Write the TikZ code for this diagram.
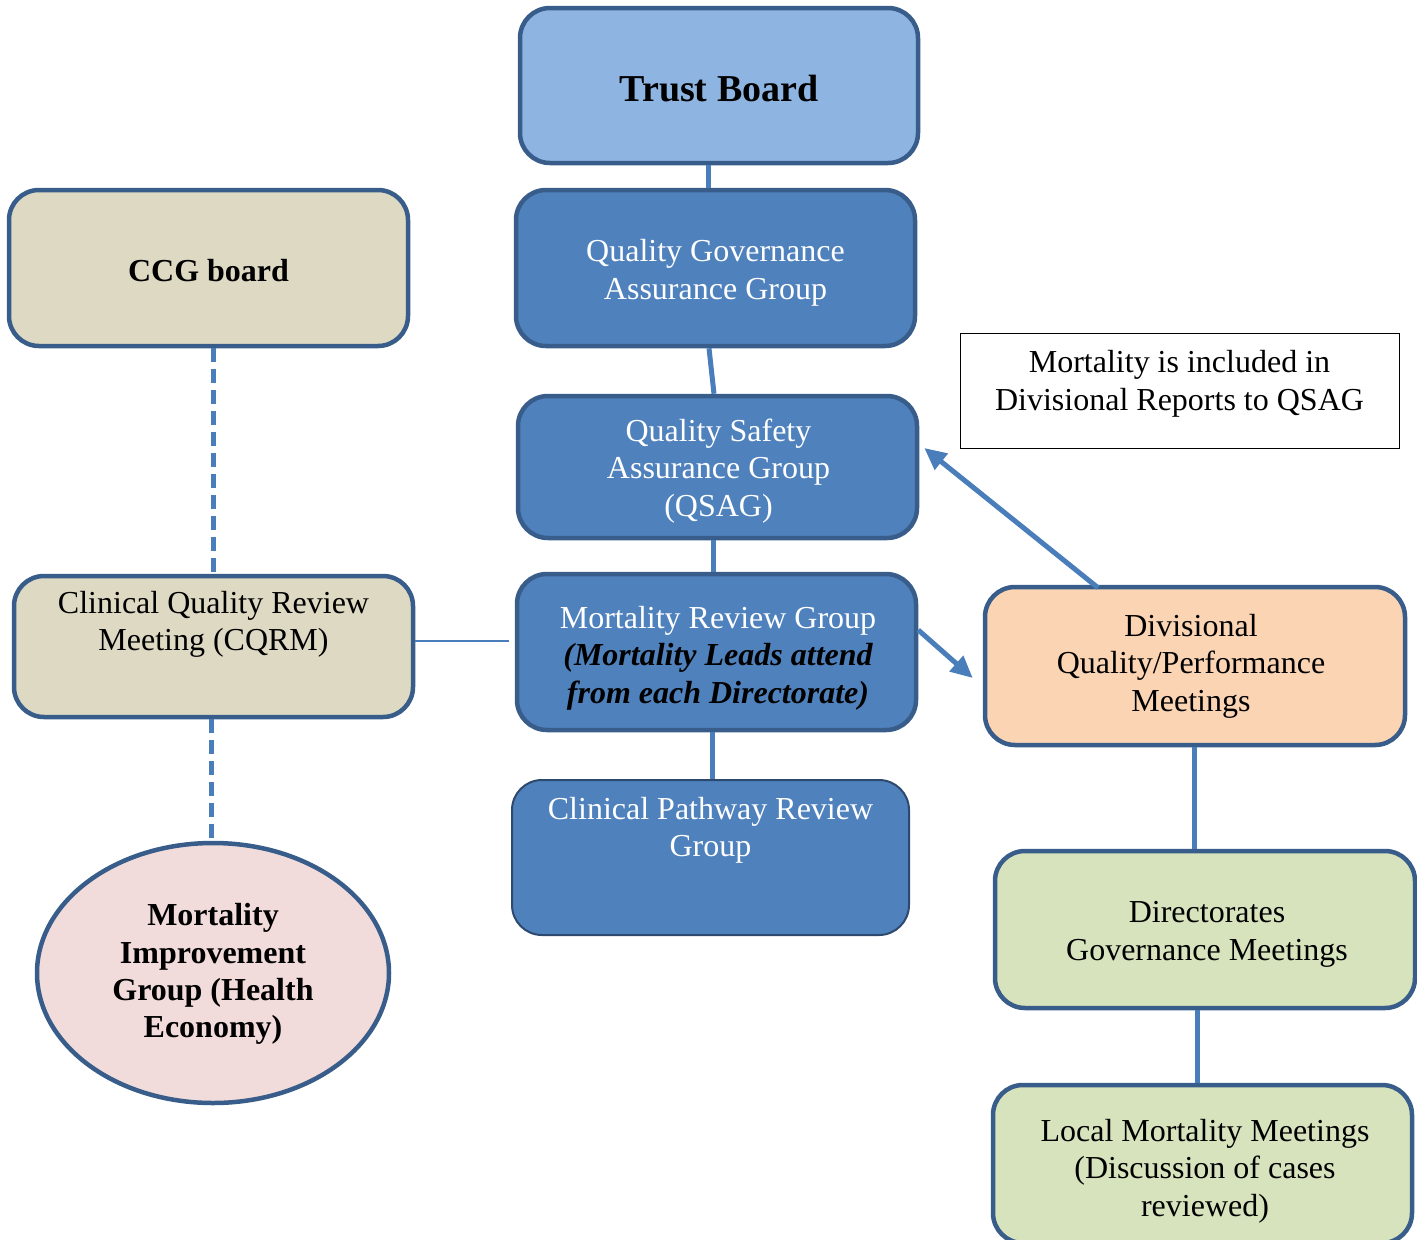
\documentclass[tikz,border=0pt]{standalone}
\usepackage{fontspec}
\setmainfont{Liberation Serif}
\usetikzlibrary{arrows.meta,shapes.geometric}
\definecolor{edgeblue}{HTML}{385D8A}
\definecolor{linkblue}{HTML}{4A7EBB}
\definecolor{midblue}{HTML}{4F81BD}
\definecolor{paleblue}{HTML}{8EB4E2}
\definecolor{tan}{HTML}{DDD9C3}
\definecolor{rose}{HTML}{F2DCDB}
\definecolor{peach}{HTML}{FBD4B4}
\definecolor{sage}{HTML}{D7E3BC}
\tikzset{
  box/.style={draw=edgeblue, line width=4.5pt, rounded corners=30pt, inner sep=0pt},
  bluebox/.style={box, fill=midblue},
  txt/.style={align=center, inner sep=0pt, font=\fontsize{32}{37.5}\selectfont},
  boldtxt/.style={txt, font=\fontsize{32}{37.2}\selectfont\bfseries},
  whitetxt/.style={txt, text=white},
  link/.style={draw=linkblue, line width=5pt},
  dashlink/.style={link, dash pattern=on 14pt off 7pt},
  thinlink/.style={draw=linkblue, line width=1.5pt},
  arrowlink/.style={link, -{Triangle[length=22pt,width=20pt]}},
}
\begin{document}
\begin{tikzpicture}[x=1pt,y=-1pt]
\useasboundingbox (0,0) rectangle (1417,1240);

% centre column: boxes
\node[box, fill=paleblue, minimum width=398pt, minimum height=155pt] (trust) at (719,85.5) {};
\node[bluebox, minimum width=399pt, minimum height=156pt] (qgag) at (715.5,268) {};
\node[bluebox, minimum width=399pt, minimum height=142pt] (qsag) at (717.5,467) {};
\node[bluebox, minimum width=399pt, minimum height=156pt] (mrg) at (716.5,652) {};
\node[bluebox, draw=edgeblue!80!black, line width=2pt, minimum width=397pt,
  minimum height=155pt] (cprg) at (710.5,857.5) {};

% centre column: labels
\node[txt, font=\fontsize{38}{44}\selectfont\bfseries] (trust-t) at (719,88.5) {Trust Board};
\node[whitetxt] (qgag-t) at (715.5,273) {Quality Governance\\Assurance Group};
\node[whitetxt] (qsag-t) at (718.5,471) {Quality Safety\\Assurance Group\\(QSAG)};
\node[whitetxt] (mrg-t) at (718,658)
  {Mortality Review Group\\
   \color{black}\bfseries\itshape (Mortality Leads attend\\
   \color{black}\bfseries\itshape from each Directorate)};
\node[whitetxt] (cprg-t) at (710.5,830.5) {Clinical Pathway Review\\Group};

% left column
\node[box, fill=tan, minimum width=399pt, minimum height=156pt] (ccg) at (208.5,268) {};
\node[boldtxt] (ccg-t) at (208.5,271) {CCG board};
\node[box, fill=tan, minimum width=399pt, minimum height=141pt] (cqrm) at (213.5,646.5) {};
\node[txt] (cqrm-t) at (213.5,624.5) {Clinical Quality Review\\Meeting (CQRM)};
\node[ellipse, draw=edgeblue, line width=4.5pt, fill=rose, inner sep=0pt,
  minimum width=352pt, minimum height=260pt] (mig) at (213,973) {};
\node[boldtxt] (mig-t) at (213,974) {Mortality\\Improvement\\Group (Health\\Economy)};

% right column
\node[draw=black, line width=1pt, fill=white, inner sep=0pt,
  minimum width=439pt, minimum height=115pt] (note) at (1179.5,390.5) {};
\node[txt] (note-t) at (1179.5,384) {Mortality is included in\\Divisional Reports to QSAG};
\node[box, fill=peach, minimum width=420pt, minimum height=158pt] (div) at (1195,666) {};
\node[txt] (div-t) at (1191,666) {Divisional\\Quality/Performance\\Meetings};
\node[box, fill=sage, minimum width=420pt, minimum height=157pt] (dir) at (1205,929.5) {};
\node[txt] (dir-t) at (1207,934.5) {Directorates\\Governance Meetings};
\node[box, fill=sage, minimum width=419pt, minimum height=158pt] (local) at (1202.5,1164) {};
\node[txt] (local-t) at (1205,1171) {Local Mortality Meetings\\(Discussion of cases\\reviewed)};

% connectors
\draw[link] ([xshift=-11pt]trust.south) -- ([xshift=-7.5pt]qgag.north);
\draw[link] ([xshift=-6.5pt]qgag.south) -- ([xshift=-3.5pt]qsag.north);
\draw[link] ([xshift=-4.5pt]qsag.south) -- ([xshift=-3.5pt]mrg.north);
\draw[link] ([xshift=-4.5pt]mrg.south) -- ([xshift=1.5pt]cprg.north);
\draw[dashlink] ([xshift=4.5pt]ccg.south) -- ([xshift=-0.5pt]cqrm.north);
\draw[dashlink] ([xshift=-2.5pt]cqrm.south) -- ([xshift=-2pt]mig.north);
\draw[thinlink] ([yshift=5.5pt]cqrm.east) -- ([xshift=-6pt,yshift=11pt]mrg.west);
\draw[arrowlink] ([yshift=22pt]mrg.east) -- ([xshift=-10pt,yshift=-12pt]div.west);
\draw[arrowlink] ([xshift=-97pt,yshift=-3pt]div.north) -- ([xshift=5pt,yshift=19pt]qsag.east);
\draw[link] ([xshift=-1pt]div.south) -- ([xshift=-11pt]dir.north);
\draw[link] ([xshift=-8pt]dir.south) -- ([xshift=-5.5pt]local.north);
\end{tikzpicture}
\end{document}
